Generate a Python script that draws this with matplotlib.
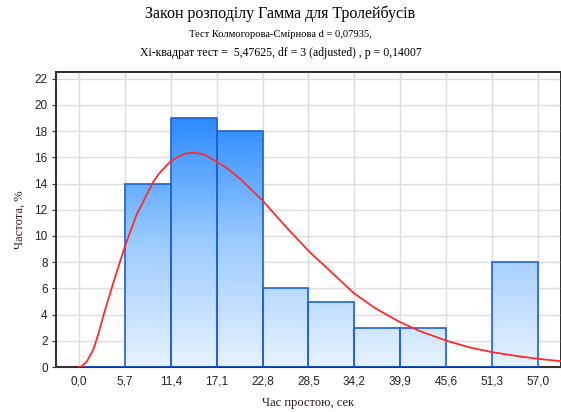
import numpy as np
import matplotlib
matplotlib.use("Agg")
from matplotlib import pyplot as plt
from matplotlib.colors import LinearSegmentedColormap

# histogram: bin edges (sec) and frequency (%)
bin_edges = [0.0, 5.7, 11.4, 17.1, 22.8, 28.5, 34.2, 39.9, 45.6, 51.3, 57.0]
freq = [0, 14, 19, 18, 6, 5, 3, 3, 0, 8]

# fitted gamma curve
curve_x = [0.0, 0.33, 1.0, 1.77, 2.4, 3.0, 4.25, 5.7, 7.14, 9.2, 10.0, 11.3, 12.3,
           13.3, 14.5, 15.6, 16.6, 18.2, 19.95, 22.8, 25.7, 28.6, 31.5, 34.2,
           36.9, 39.8, 42.3, 45.7, 48.5, 51.3, 54.2, 57.0, 59.85]
curve_y = [0.0, 0.05, 0.45, 1.32, 2.5, 3.85, 6.4, 9.2, 11.6, 14.1, 14.8, 15.65, 16.05,
           16.3, 16.35, 16.2, 15.85, 15.25, 14.4, 12.7, 10.7, 8.8, 7.15, 5.6,
           4.45, 3.45, 2.75, 2.0, 1.5, 1.14, 0.86, 0.63, 0.45]

x_ticks = bin_edges
x_labels = ["0,0", "5,7", "11,4", "17,1", "22,8", "28,5", "34,2", "39,9", "45,6", "51,3", "57,0"]
y_ticks = list(range(0, 23, 2))

title = "Закон розподілу Гамма для Тролейбусів"
sub1 = "Тест Колмогорова-Смірнова d = 0,07935,"
sub2 = "Xi-квадрат тест =  5,47625, df = 3 (adjusted) , p = 0,14007"

serif = ["Liberation Serif", "DejaVu Serif"]
sans = ["Liberation Sans", "DejaVu Sans"]

fig = plt.figure(figsize=(5.61, 4.12), dpi=100)
ax = fig.add_axes([0.0998, 0.109, 0.9002, 0.716])

xmin, xmax = -2.85, 59.85
ax.set_xlim(xmin, xmax)
ax.set_ylim(0, 22.5)

ax.grid(True, color="#dcdcdc", linewidth=1.0, zorder=0)
ax.set_axisbelow(True)

grad = LinearSegmentedColormap.from_list("g", ["#e6f2ff", "#9ccbff", "#2b8bff"])
gimg = np.linspace(0, 1, 256).reshape(-1, 1)

widths = np.diff(bin_edges)
bars = ax.bar(bin_edges[:-1], freq, width=widths, align="edge",
              facecolor="none", edgecolor="#1f5fd6", linewidth=1.2, zorder=3)
for b, v in zip(bars, freq):
    if v <= 0:
        continue
    im = ax.imshow(gimg, cmap=grad, origin="lower", aspect="auto",
                   extent=[xmin, xmax, 0, max(freq)], zorder=2)
    im.set_clip_path(b)

ax.plot(curve_x, curve_y, color="#ff2a2a", linewidth=1.3, zorder=4)
ax.set_xlim(xmin, xmax)
ax.set_ylim(0, 22.5)

ax.set_xticks(x_ticks)
ax.set_xticklabels(x_labels)
ax.set_yticks(y_ticks)
for lab in ax.get_xticklabels() + ax.get_yticklabels():
    lab.set_family(sans)
    lab.set_fontsize(8.5)
    lab.set_color("#222222")
ax.tick_params(axis="y", direction="out", length=3, color="#333333", pad=3)
ax.tick_params(axis="x", direction="out", length=0, color="#333333", pad=6)

# inward ticks along top and right edges
top = ax.secondary_xaxis("top")
top.set_xticks(x_ticks)
top.tick_params(direction="in", length=3, color="#333333", labeltop=False)
right = ax.secondary_yaxis("right")
right.set_yticks(y_ticks)
right.tick_params(direction="in", length=3, color="#333333", labelright=False)

for s in ["left", "bottom"]:
    ax.spines[s].set_linewidth(1.5)
    ax.spines[s].set_color("#333333")
for s in ["top", "right"]:
    ax.spines[s].set_linewidth(1.2)
    ax.spines[s].set_color("#333333")
top.spines["top"].set_linewidth(1.2)
right.spines["right"].set_linewidth(1.2)

ax.set_xlabel("Час простою, сек", family=serif, fontsize=9, color="#2a1a1a", labelpad=7)
ax.set_ylabel("Частота, %", family=serif, fontsize=9, color="#3a1f1f", labelpad=6)

fig.text(0.5, 0.966, title, ha="center", va="center", family=serif, fontsize=11.5)
fig.text(0.5, 0.917, sub1, ha="center", va="center", family=serif, fontsize=7.6)
fig.text(0.5, 0.871, sub2, ha="center", va="center", family=serif, fontsize=8.5)

fig.savefig("out.png", dpi=100)
